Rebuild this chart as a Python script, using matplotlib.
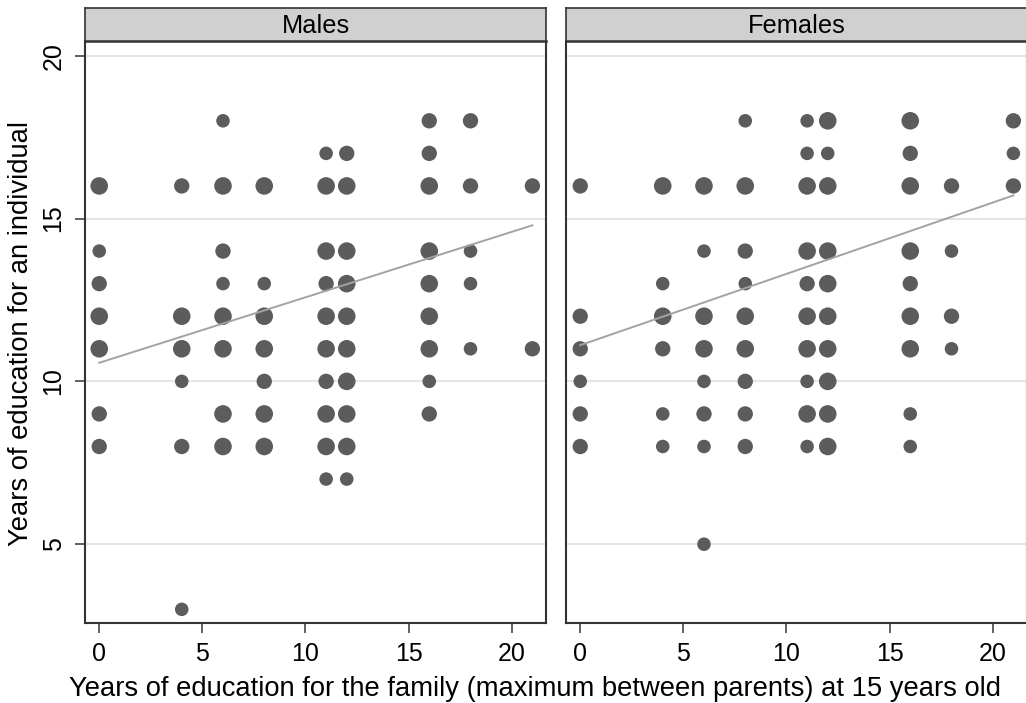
import matplotlib
matplotlib.use("Agg")
import matplotlib.pyplot as plt
import numpy as np

plt.rcParams['font.family'] = ['Liberation Sans', 'DejaVu Sans']

# marker weight: 1 = small, 2 = medium, 3 = large
males_x = [0, 0, 0, 0, 0, 0, 0,
           4, 4, 4, 4, 4, 4,
           6, 6, 6, 6, 6, 6, 6, 6,
           8, 8, 8, 8, 8, 8, 8,
           11, 11, 11, 11, 11, 11, 11, 11, 11, 11,
           12, 12, 12, 12, 12, 12, 12, 12, 12, 12,
           16, 16, 16, 16, 16, 16, 16, 16, 16,
           18, 18, 18, 18, 18,
           21, 21]
males_y = [16, 14, 13, 12, 11, 9, 8,
           16, 12, 11, 10, 8, 3,
           18, 16, 14, 13, 12, 11, 9, 8,
           16, 13, 12, 11, 10, 9, 8,
           17, 16, 14, 13, 12, 11, 10, 9, 8, 7,
           17, 16, 14, 13, 12, 11, 10, 9, 8, 7,
           18, 17, 16, 14, 13, 12, 11, 10, 9,
           18, 16, 14, 13, 11,
           16, 11]
males_w = [3, 1, 2, 3, 3, 2, 2,
           2, 3, 3, 1, 2, 1,
           1, 3, 2, 1, 3, 3, 3, 3,
           3, 1, 3, 3, 2, 3, 3,
           1, 3, 3, 2, 3, 3, 2, 3, 3, 1,
           2, 3, 3, 3, 3, 3, 3, 3, 3, 1,
           2, 2, 3, 3, 3, 3, 3, 1, 2,
           2, 2, 1, 1, 1,
           2, 2]

females_x = [0, 0, 0, 0, 0, 0,
             4, 4, 4, 4, 4, 4,
             6, 6, 6, 6, 6, 6, 6, 6,
             8, 8, 8, 8, 8, 8, 8, 8, 8,
             11, 11, 11, 11, 11, 11, 11, 11, 11, 11,
             12, 12, 12, 12, 12, 12, 12, 12, 12, 12,
             16, 16, 16, 16, 16, 16, 16, 16, 16,
             18, 18, 18, 18,
             21, 21, 21]
females_y = [16, 12, 11, 10, 9, 8,
             16, 13, 12, 11, 9, 8,
             16, 14, 12, 11, 10, 9, 8, 5,
             18, 16, 14, 13, 12, 11, 10, 9, 8,
             18, 17, 16, 14, 13, 12, 11, 10, 9, 8,
             18, 17, 16, 14, 13, 12, 11, 10, 9, 8,
             18, 17, 16, 14, 13, 12, 11, 9, 8,
             16, 14, 12, 11,
             18, 17, 16]
females_w = [2, 2, 2, 1, 2, 2,
             3, 1, 3, 2, 1, 1,
             3, 1, 3, 3, 1, 2, 1, 1,
             1, 3, 2, 1, 3, 3, 2, 2, 2,
             1, 1, 3, 3, 2, 3, 3, 1, 3, 1,
             3, 1, 3, 3, 3, 3, 3, 3, 3, 3,
             3, 2, 3, 3, 2, 3, 3, 1, 1,
             2, 1, 2, 1,
             2, 1, 2]

# fitted lines (intercept, slope)
males_fit = (10.57, 0.201)
females_fit = (11.11, 0.219)

panels = ["Males", "Females"]
x_ticks = [0, 5, 10, 15, 20]
y_ticks = [5, 10, 15, 20]

W, H = 1026, 703
fig = plt.figure(figsize=(W / 100, H / 100), dpi=100)

size_map = {1: 95, 2: 122, 3: 160}
dot_color = '#5c5c5c'
line_color = '#a3a3a3'
edge_color = '#333333'

panel_left = [85, 566]
pw = 461
top, bottom = 41, 622.7
datasets = [(males_x, males_y, males_w, males_fit),
            (females_x, females_y, females_w, females_fit)]

for i, (name, (xs, ys, ws, fit)) in enumerate(zip(panels, datasets)):
    left = panel_left[i]
    ax = fig.add_axes([left / W, (H - bottom) / H, pw / W, (bottom - top) / H])
    ax.set_xlim(-0.69, 21.66)
    ax.set_ylim(2.59, 20.45)
    for yv in y_ticks:
        ax.axhline(yv, color='#e2e2e2', lw=1.3, zorder=0)
    ax.scatter(xs, ys, s=[size_map[w] for w in ws], color=dot_color,
               edgecolors='none', zorder=2)
    xl = np.array([min(xs), max(xs)])
    ax.plot(xl, fit[0] + fit[1] * xl, color=line_color, lw=1.4, zorder=3)

    ax.set_xticks(x_ticks)
    ax.tick_params(axis='x', length=7, width=1.2, color='#444444',
                   labelsize=18, pad=7)
    if i == 0:
        ax.set_yticks(y_ticks)
        ax.set_yticklabels([str(v) for v in y_ticks], rotation=90, va='center')
        ax.tick_params(axis='y', length=7, width=1.2, color='#444444',
                       labelsize=18, pad=7)
    else:
        ax.set_yticks([])
    for sp in ax.spines.values():
        sp.set_color(edge_color)
        sp.set_linewidth(1.5)
    ax.spines['top'].set_visible(False)

    # header strip
    sax = fig.add_axes([left / W, (H - top) / H, pw / W, (top - 8.3) / H])
    sax.set_facecolor('#d0d0d0')
    sax.set_xticks([])
    sax.set_yticks([])
    for sp in sax.spines.values():
        sp.set_color(edge_color)
        sp.set_linewidth(1.2)
    sax.spines['bottom'].set_linewidth(1.8)
    sax.text(0.5, 0.47, name, ha='center', va='center', fontsize=18.3,
             transform=sax.transAxes)

fig.text(535 / W, 1 - 689 / H,
         "Years of education for the family (maximum between parents) at 15 years old",
         ha='center', va='center', fontsize=19.7)
fig.text(21 / W, 1 - 334 / H, "Years of education for an individual",
         ha='center', va='center', rotation=90, fontsize=19.7)

fig.savefig("out.png", dpi=100)
